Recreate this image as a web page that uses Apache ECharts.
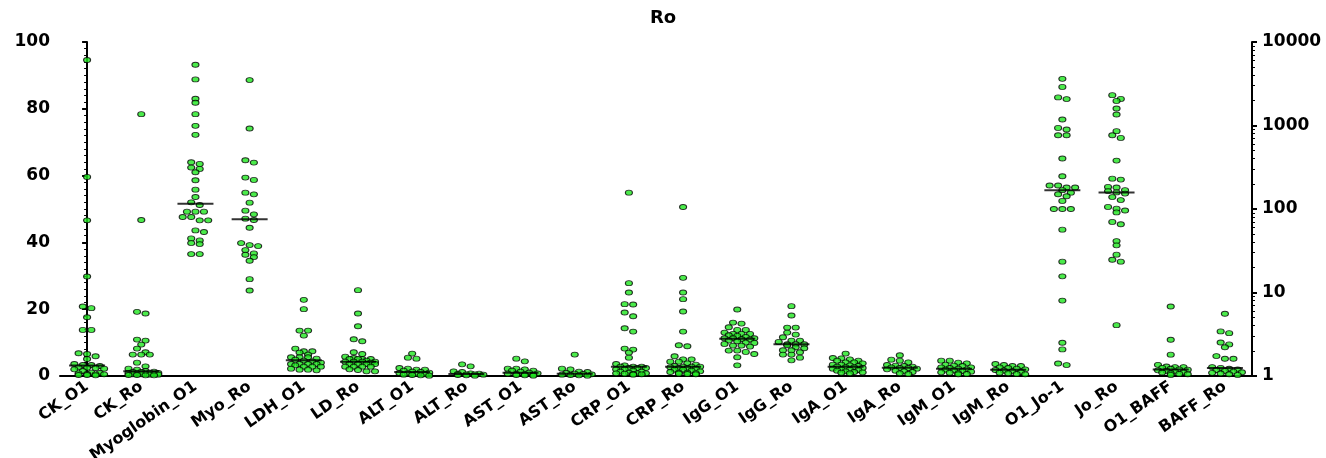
<!DOCTYPE html>
<html>
<head>
<meta charset="utf-8">
<script src="https://cdn.jsdelivr.net/npm/echarts@6/dist/echarts.min.js"></script>
<style>
  html, body { margin: 0; padding: 0; background: #fff; }
  #main { width: 1326px; height: 458px; }
</style>
</head>
<body>
<div id="main"></div>
<script>
// categories along the bottom
var categories = ['CK_O1', 'CK_Ro', 'Myoglobin_O1', 'Myo_Ro', 'LDH_O1', 'LD_Ro', 'ALT_O1', 'ALT_Ro',
  'AST_O1', 'AST_Ro', 'CRP_O1', 'CRP_Ro', 'IgG_O1', 'IgG_Ro', 'IgA_O1', 'IgA_Ro', 'IgM_O1', 'IgM_Ro',
  'O1_Jo-1', 'Jo_Ro', 'O1_BAFF', 'BAFF_Ro'];

// left axis (linear) groups
var ckO1 = [94.6, 59.6, 46.6, 29.8, 20.8, 20.3, 17.6, 13.8, 13.8, 6.8, 6.6, 5.9, 5.1, 3.6, 3.3, 3.3, 3.0, 2.6, 2.5,
  2.4, 2.2, 2.0, 1.5, 1.0, 0.9, 0.8, 0.6, 0.5, 0.3, 0.2, 0.5, 0.3];
var ckRo = [78.4, 46.7, 19.2, 18.7, 10.9, 10.6, 9.4, 8.2, 7.1, 6.4, 6.4, 6.4, 4.0, 2.9, 2.2, 1.9, 1.5, 1.3, 1.2, 1.2,
  1.0, 0.9, 0.8, 0.6, 0.5, 0.4, 0.3, 0.2, 0.9, 0.7, 0.5, 0.4, 0.3, 0.2];
var myoO1 = [93.2, 88.8, 83.0, 81.8, 78.4, 74.9, 72.2, 64.0, 63.5, 62.4, 62.0, 61.0, 58.6, 55.8, 53.6, 52.0, 51.2,
  49.2, 49.2, 49.2, 47.6, 47.6, 46.6, 46.6, 43.6, 43.1, 41.2, 40.6, 39.8, 39.5, 36.5, 36.5];
var myoRo = [88.6, 74.1, 64.6, 63.9, 59.4, 58.7, 54.9, 54.4, 51.9, 49.5, 48.4, 47.1, 46.7, 44.4, 39.8, 39.2, 38.9,
  37.7, 36.7, 36.3, 35.6, 34.5, 29.0, 25.6];
var ldhO1 = [22.8, 20.0, 13.6, 13.6, 12.1, 8.2, 7.4, 7.4, 7.0, 6.4, 5.6, 5.6, 5.6, 5.2, 4.9, 4.6, 4.4, 4.0, 3.6, 3.6,
  3.6, 3.6, 3.2, 2.8, 2.8, 2.8, 2.2, 1.9, 1.9, 1.7];
var ldRo = [25.7, 18.7, 14.9, 11.0, 10.4, 7.1, 6.6, 5.8, 5.4, 5.1, 5.1, 5.1, 5.1, 4.6, 4.3, 4.3, 4.3, 4.3, 4.0, 3.6,
  3.6, 3.6, 3.6, 2.8, 2.8, 2.8, 2.8, 2.0, 1.8, 1.4, 1.4];
var altO1 = [6.7, 5.5, 5.2, 2.4, 2.2, 1.9, 1.9, 1.6, 1.3, 1.2, 1.0, 0.9, 0.8, 0.6, 0.5, 0.4, 0.3, 0.2, 0.1];
var altRo = [3.5, 2.9, 1.4, 1.2, 0.8, 0.7, 0.6, 0.5, 0.5, 0.4, 0.3, 0.2, 0.1];
var astO1 = [5.2, 4.4, 2.2, 2.2, 2.0, 1.6, 1.6, 1.3, 1.0, 0.8, 0.7, 0.6, 0.5, 0.4, 0.3, 0.2, 0.1];
var astRo = [6.4, 2.2, 2.0, 1.3, 1.2, 0.9, 0.7, 0.6, 0.5, 0.4, 0.3, 0.2, 0.1];
var crpO1 = [54.9, 27.8, 25.0, 21.5, 21.4, 19.0, 17.9, 14.3, 13.3, 8.2, 7.9, 7.0, 5.5, 3.6, 3.2, 2.8, 2.8, 2.8, 2.4,
  2.4, 2.4, 2.0, 2.0, 1.6, 1.3, 1.3, 1.0, 0.8, 0.8, 0.8, 0.7, 0.6, 0.5, 0.4];
var crpRo = [50.6, 29.4, 25.0, 23.0, 19.3, 13.3, 9.2, 8.9, 5.9, 5.0, 5.0, 4.3, 4.3, 3.8, 3.4, 3.0, 2.8, 2.8, 2.8,
  2.6, 2.4, 2.4, 2.2, 1.9, 1.9, 1.6, 1.4, 1.2, 1.0, 1.0, 0.8, 0.7, 0.6, 0.5];
var iggO1 = [19.9, 16.0, 15.7, 14.6, 13.8, 13.8, 13.0, 12.6, 12.6, 12.6, 12.2, 12.0, 11.7, 11.3, 11.3, 11.3, 11.0,
  10.9, 10.6, 10.4, 10.0, 9.9, 9.6, 9.1, 9.1, 8.8, 7.6, 7.6, 7.2, 6.6, 5.6, 3.2];
var iggRo = [20.9, 18.1, 14.5, 14.5, 13.0, 12.4, 11.6, 10.6, 10.6, 10.2, 9.5, 9.5, 9.5, 9.2, 8.6, 8.3, 7.7, 7.7,
  7.1, 6.4, 6.4, 5.5, 4.7];
var igaO1 = [6.7, 5.4, 5.3, 5.0, 4.6, 4.6, 4.1, 4.1, 3.8, 3.4, 3.4, 3.2, 3.0, 2.8, 2.6, 2.6, 2.4, 2.2, 2.0, 1.9,
  1.8, 1.6, 1.4, 1.2, 1.1, 1.0, 0.8];
var igaRo = [6.2, 4.9, 4.6, 4.1, 3.3, 3.1, 3.0, 2.8, 2.6, 2.4, 2.4, 2.2, 2.0, 1.6, 1.4, 1.2, 0.8, 0.6];
var igmO1 = [4.6, 4.6, 4.0, 3.8, 3.4, 3.1, 3.0, 2.6, 2.6, 2.4, 2.2, 2.0, 1.9, 1.7, 1.5, 1.3, 1.1, 1.0, 0.8, 0.6, 0.5];
var igmRo = [3.6, 3.3, 3.0, 3.0, 2.6, 2.4, 2.2, 2.0, 1.8, 1.6, 1.4, 1.2, 1.0, 0.8, 0.6, 0.5];

// right axis (log) groups
var jo1O1 = [3620, 2900, 2170, 2070, 1180, 935, 896, 765, 765, 402, 247, 191, 191, 181, 181, 168, 157, 150, 142,
  125, 100, 100, 100, 56.6, 23.4, 15.6, 8.0, 2.5, 2.08, 1.41, 1.35];
var joRo = [2310, 2080, 1970, 1600, 1356, 855, 765, 710, 380, 231, 225, 184, 181, 168, 164, 158, 153, 139, 128, 106,
  101, 96, 91, 70, 65.6, 41.3, 36.7, 28.4, 24.7, 23.4, 4.06];
var baffO1 = [6.8, 2.72, 1.80, 1.36, 1.30, 1.28, 1.28, 1.25, 1.22, 1.20, 1.19, 1.17, 1.15, 1.13, 1.11, 1.10, 1.08,
  1.06, 1.05, 1.03];
var baffRo = [5.57, 3.42, 3.26, 2.52, 2.39, 2.21, 1.73, 1.61, 1.61, 1.28, 1.25, 1.22, 1.20, 1.18, 1.15, 1.13, 1.11,
  1.09, 1.07, 1.05, 1.03];

var groups = [ckO1, ckRo, myoO1, myoRo, ldhO1, ldRo, altO1, altRo, astO1, astRo, crpO1, crpRo,
  iggO1, iggRo, igaO1, igaRo, igmO1, igmRo, jo1O1, joRo, baffO1, baffRo];
var onLog = [false, false, false, false, false, false, false, false, false, false, false, false,
  false, false, false, false, false, false, true, true, true, true];

var leftTicks = [0, 20, 40, 60, 80, 100];
var rightTicks = [1, 10, 100, 1000, 10000];

// layout
var W = 1326, H = 458;
var grid = { left: 60, right: 74, top: 42, bottom: 82, containLabel: false, outerBoundsMode: 'none' };
var plotH = H - grid.top - grid.bottom;
var bandW = (W - grid.left - grid.right) / categories.length;
var SPACE = 8.5, ROWH = 4, MAXROW = 4;

function pxOf(v, log) {
  return log ? Math.log10(v) / Math.log10(10000) * plotH : v / 100 * plotH;
}

// arrange a group like a prism dot plot: rows of points centred on the category
function swarm(vals, log) {
  var pts = vals.map(function (v) { return { v: v, y: pxOf(v, log) }; })
    .sort(function (a, b) { return b.y - a.y; });
  var out = [], row = [], shift = 0;
  function flush(full) {
    row.forEach(function (p, k) {
      out.push({ v: p.v, dx: (k - (row.length - 1) / 2) * SPACE + shift });
    });
    row = [];
    shift = full ? (shift ? 0 : SPACE / 2) : 0;
  }
  pts.forEach(function (p) {
    if (row.length && (row[0].y - p.y > ROWH || row.length >= MAXROW)) flush(row.length >= MAXROW);
    row.push(p);
  });
  flush(false);
  return out;
}

function median(a) {
  var s = a.slice().sort(function (x, y) { return x - y; });
  var n = s.length;
  return n % 2 ? s[(n - 1) / 2] : (s[n / 2 - 1] + s[n / 2]) / 2;
}

var linPts = [], logPts = [], linMed = [], logMed = [];
groups.forEach(function (g, i) {
  var log = onLog[i];
  swarm(g, log).forEach(function (p) {
    (log ? logPts : linPts).push([i + p.dx / bandW, p.v]);
  });
  (log ? logMed : linMed).push([i, median(g)]);
});

var font = 'DejaVu Sans';
var myChart = echarts.init(document.getElementById('main'));

var dotStyle = { color: '#1ee61e', borderColor: '#000', borderWidth: 1 };

var option = {
  animation: false,
  title: {
    text: 'Ro', left: 'center', top: 4,
    textStyle: { fontFamily: font, fontWeight: 'bold', fontSize: 18, color: '#000' }
  },
  grid: grid,
  xAxis: [
    {
      type: 'category', data: categories, boundaryGap: true,
      axisLine: { lineStyle: { color: '#000', width: 2 } },
      axisTick: { alignWithLabel: true, length: 5, lineStyle: { width: 2, color: '#000' } },
      axisLabel: { rotate: 35, interval: 0, margin: 9, fontFamily: font, fontWeight: 'bold', fontSize: 16, color: '#000' },
      splitLine: { show: false }
    },
    { type: 'value', min: -0.5, max: categories.length - 0.5, show: false }
  ],
  yAxis: [
    {
      type: 'value', min: leftTicks[0], max: leftTicks[leftTicks.length - 1], interval: 20,
      axisLine: { show: true, lineStyle: { color: '#000', width: 2 } },
      axisTick: { show: true, length: 5, lineStyle: { width: 2, color: '#000' } },
      minorTick: { show: true, splitNumber: 10, length: 3, lineStyle: { color: '#000', width: 1 } },
      axisLabel: { margin: 10, fontFamily: font, fontWeight: 'bold', fontSize: 17, color: '#000' },
      splitLine: { show: false }
    },
    {
      type: 'log', logBase: 10, min: rightTicks[0], max: rightTicks[rightTicks.length - 1], position: 'right',
      axisLine: { show: true, lineStyle: { color: '#000', width: 2 } },
      axisTick: { show: true, length: 5, lineStyle: { width: 2, color: '#000' } },
      minorTick: { show: true, splitNumber: 9, length: 3, lineStyle: { color: '#000', width: 1 } },
      axisLabel: {
        margin: 10, fontFamily: font, fontWeight: 'bold', fontSize: 17, color: '#000',
        formatter: function (v) { return String(Math.round(v)); }
      },
      splitLine: { show: false }
    }
  ],
  series: [
    { type: 'scatter', xAxisIndex: 1, yAxisIndex: 0, data: linPts, symbol: 'circle', symbolSize: [7, 5], itemStyle: dotStyle, z: 2 },
    { type: 'scatter', xAxisIndex: 1, yAxisIndex: 1, data: logPts, symbol: 'circle', symbolSize: [7, 5], itemStyle: dotStyle, z: 2 },
    { type: 'scatter', xAxisIndex: 1, yAxisIndex: 0, data: linMed, symbol: 'rect', symbolSize: [36, 2], itemStyle: { color: '#000' }, z: 3 },
    { type: 'scatter', xAxisIndex: 1, yAxisIndex: 1, data: logMed, symbol: 'rect', symbolSize: [36, 2], itemStyle: { color: '#000' }, z: 3 }
  ]
};
myChart.setOption(option);
</script>
</body>
</html>
